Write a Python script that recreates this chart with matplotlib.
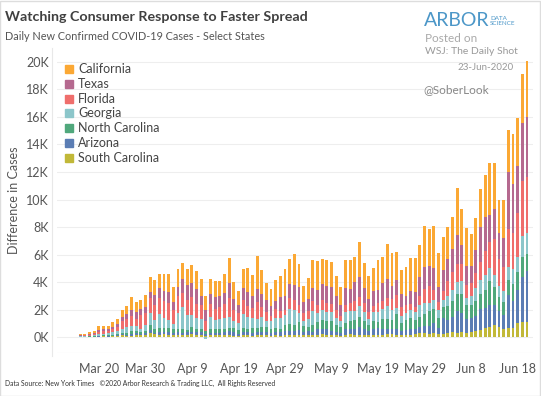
import numpy as np
import pandas as pd
import matplotlib
matplotlib.use('Agg')
import matplotlib.pyplot as plt
import matplotlib.dates as mdates
from matplotlib.ticker import FuncFormatter, MultipleLocator
from matplotlib.patches import Rectangle
from matplotlib.lines import Line2D

plt.rcParams['font.family'] = ['Lato', 'DejaVu Sans']

# daily new cases, Mar 16 .. Jun 20 2020
dates = pd.date_range('2020-03-16', '2020-06-20', freq='D')

south_carolina = [10, 12, 15, 20, 35, 40, 35, 50, 45, 125, 50, 85, 120, 150, 150, 270, 210, 140, 220, 150,
                  170, 150, 180, 160, 190, 140, 170, 100, 150, 120, 130, 150, 170, 110, 100, 140, 120, 110, 160, 180,
                  130, 90, 130, 110, 130, 160, 150, 140, 130, 140, 120, 150, 200, 170, 130, 120, 100, 150, 200, 160,
                  180, 170, 140, 140, 150, 150, 200, 190, 160, 170, 150, 180, 220, 260, 280, 240, 300, 250, 240, 270,
                  350, 330, 340, 300, 400, 450, 520, 680, 710, 880, 760, 620, 650, 650, 1000, 1100, 1120]
arizona = [5, 8, 10, 15, 25, 40, 40, 60, 90, 75, 110, 160, 140, 100, 120, 240, 120, 200, 180, 220,
           150, 200, 150, 180, 200, 210, 170, 150, 150, 200, 140, 190, 250, 230, 150, 260, 220, 180, 190, 210,
           220, 200, 250, 280, 300, 290, 260, 340, 260, 280, 250, 420, 420, 390, 300, 230, 200, 400, 350, 400,
           520, 380, 300, 410, 480, 430, 370, 420, 420, 280, 360, 410, 370, 450, 550, 560, 740, 400, 1130, 960,
           1100, 1590, 1430, 1000, 1000, 1100, 1500, 1410, 1650, 1450, 1100, 950, 2400, 2000, 2450, 3250, 3700]
north_carolina = [10, 15, 25, 30, 50, 60, 50, 55, 100, 100, 130, 160, 150, 140, 160, 360, 240, 320, 250, 280,
                  230, 250, 240, 200, 320, 270, 270, 180, 270, 250, 300, 260, 250, 300, 230, 270, 280, 360, 340, 330,
                  380, 320, 290, 220, 450, 470, 490, 590, 420, 330, 500, 540, 600, 590, 710, 500, 440, 470, 600, 700,
                  780, 600, 450, 640, 500, 700, 750, 650, 1100, 600, 700, 800, 650, 760, 860, 1100, 1000, 760, 780, 1010,
                  1150, 1200, 1370, 1000, 950, 1100, 1100, 1350, 1750, 1300, 1080, 1000, 1100, 1200, 1300, 1500, 1200]
georgia = [30, 40, 50, 90, 120, 110, 150, 180, 200, 250, 470, 400, 380, 220, 470, 850, 700, 1050, 700, 600,
           370, 1130, 1600, 1050, 900, 750, 670, -150, 900, 640, 760, 800, 790, 560, 540, 990, 870, 720, 640, 740,
           430, 560, 720, 760, 740, 1100, 1080, 690, 380, 540, 1010, 620, 760, 680, 650, 500, 400, 800, 750, 620,
           800, 640, 450, 640, 700, 760, 910, 700, 450, 470, 520, 600, 560, 850, 800, 600, 650, 560, 560, 730,
           820, 900, 920, 550, 600, 880, 1000, 1100, 900, 900, 750, 750, 950, 1100, 1100, 1500, 1550]
florida = [40, 50, 80, 100, 150, 190, 180, 250, 320, 600, 520, 730, 540, 1000, 880, 1090, 1030, 1110, 1250, 1200,
           1020, 1240, 1000, 1120, 1290, 1060, 1020, 770, 910, 800, 830, 980, 1410, 740, 700, 1000, 790, 730, 1230, 730,
           650, 370, 630, 540, 370, 850, 730, 550, 590, 580, 720, 570, 720, 660, 600, 610, 360, 540, 610, 750,
           660, 720, 510, 420, 630, 580, 640, 780, 930, 660, 570, 430, 360, 670, 1000, 1230, 750, 600, 640, 1100,
           1300, 1300, 1270, 900, 960, 1100, 1370, 1700, 1900, 2580, 2000, 1750, 2780, 2600, 3200, 4000, 4050]
texas = [25, 30, 55, 60, 140, 130, 110, 160, 190, 310, 370, 460, 480, 450, 380, 440, 730, 740, 760, 840,
         610, 700, 1080, 1050, 1060, 1030, 710, 780, 720, 880, 790, 800, 1050, 840, 630, 870, 960, 900, 930, 960,
         850, 690, 610, 1020, 960, 1010, 1100, 1300, 780, 910, 1000, 1100, 1140, 1220, 1220, 1010, 860, 1200, 1000, 1400,
         1460, 1050, 900, 1090, 970, 1280, 1380, 1000, 1100, 950, 710, 930, 1100, 1370, 1620, 1400, 1600, 1100, 1500, 1600,
         1650, 2080, 1370, 1400, 1230, 1700, 2500, 2510, 1930, 2200, 1860, 2100, 4100, 3580, 3350, 4200, 4350]
california = [70, 85, 125, 145, 260, 230, 235, 315, 345, 480, 580, 935, 740, 630, 920, 1090, 1120, 1000, 1200, 1270,
              1110, 1280, 1110, 1160, 1280, 1360, 1180, 980, 1100, 1160, 1150, 1400, 1800, 1200, 1000, 1400, 1810, 1510, 2400, 1700,
              1240, 1250, 1540, 1540, 1970, 1780, 2230, 1700, 1150, 1490, 2000, 2140, 1810, 1890, 1810, 1490, 1260, 2040, 2090, 1760,
              2530, 1850, 1700, 1650, 2150, 1890, 2500, 2360, 2030, 1720, 2080, 2430, 2510, 2330, 2960, 2700, 3060, 2460, 2450, 2350,
              2330, 3410, 2610, 2800, 2350, 2300, 2810, 3050, 3850, 3320, 2440, 2820, 3070, 3630, 3500, 3580, 4080]

legend_names = ['California', 'Texas', 'Florida', 'Georgia', 'North Carolina', 'Arizona', 'South Carolina']
colors = ['#FBA834', '#B5698F', '#EF6E6C', '#8CC6CA', '#50A87C', '#5B7DB4', '#C1B838']

series = [california, texas, florida, georgia, north_carolina, arizona, south_carolina]

W, H = 541, 396
fig = plt.figure(figsize=(W / 100, H / 100), dpi=100)
fig.patch.set_facecolor('white')

def fx(x):
    return x / W

def fy(y):
    return 1 - y / H

ax_l, ax_r, ax_t, ax_b = 57, 533, 50, 353
ax = fig.add_axes([fx(ax_l), fy(ax_b), (ax_r - ax_l) / W, (ax_b - ax_t) / H])

# stack from the bottom (South Carolina) to the top (California), negatives go below zero
pos_bottom = np.zeros(len(dates))
neg_bottom = np.zeros(len(dates))
for vals, col in zip(series[::-1], colors[::-1]):
    v = np.array(vals, dtype=float)
    b = np.where(v >= 0, pos_bottom, neg_bottom)
    ax.bar(dates, v, bottom=b, width=0.62, color=col, linewidth=0, zorder=3)
    pos_bottom += np.clip(v, 0, None)
    neg_bottom += np.clip(v, None, 0)

start = pd.Timestamp('2020-03-20')
ax.set_xlim(start - pd.Timedelta(days=9.0), start + pd.Timedelta(days=93.3))
ax.set_ylim(-1160, 20870)

ax.yaxis.set_major_locator(MultipleLocator(2000))
ax.yaxis.set_major_formatter(FuncFormatter(lambda v, p: '%dK' % round(v / 1000)))
ax.set_xticks(pd.date_range('2020-03-20', '2020-06-18', freq='10D'))
ax.xaxis.set_major_formatter(mdates.DateFormatter('%b %-d'))
ax.tick_params(axis='both', length=0, colors='#555555', labelsize=9)
ax.tick_params(axis='y', pad=6)
ax.tick_params(axis='x', pad=7)
ax.grid(axis='y', color='#EEEEEE', linewidth=0.8, zorder=0)
for s in ax.spines.values():
    s.set_visible(False)
ax.axhline(-1160, color='#E6E6E6', linewidth=0.8)

# pane divider
fig.add_artist(Line2D([fx(52), fx(52)], [fy(48), fy(356)], color='#E8E8E8', linewidth=0.8))

# legend drawn by hand
for i, (name, col) in enumerate(zip(legend_names, colors)):
    yc = 69 + i * 14.8
    fig.add_artist(Rectangle((fx(65), fy(yc + 4)), 8 / W, 8 / H, color=col, transform=fig.transFigure))
    fig.text(fx(78), fy(yc), name, fontsize=9, color='#444444', va='center', ha='left')

fig.text(fx(14), fy(200), 'Difference in Cases', rotation=90, fontsize=9, color='#555555',
         va='center', ha='center')

fig.text(fx(5), fy(17), 'Watching Consumer Response to Faster Spread', fontsize=10.3, color='#404040',
         weight='bold', va='center', ha='left')
fig.text(fx(5), fy(37), 'Daily New Confirmed COVID-19 Cases - Select States', fontsize=7.8, color='#555555',
         va='center', ha='left')

fig.text(fx(424), fy(21), 'ARBOR', fontsize=14, color='#4C97C8', va='center', ha='left')
fig.text(fx(490), fy(21), 'DATA\nSCIENCE', fontsize=4.5, color='#4C97C8', va='center', ha='left', linespacing=1.0)
fig.text(fx(425), fy(38), 'Posted on', fontsize=8.5, color='#AAAAAA', va='center', ha='left')
fig.text(fx(425), fy(52), 'WSJ: The Daily Shot', fontsize=7.5, color='#999999', va='center', ha='left')
fig.text(fx(457), fy(68), '23-Jun-2020', fontsize=7, color='#999999', va='center', ha='left')
fig.text(fx(423), fy(90), '@SoberLook', fontsize=8.5, color='#888888', va='center', ha='left')

fig.text(fx(5), fy(383), 'Data Source: New York Times   \u00a92020 Arbor Research & Trading LLC,  All Rights Reserved',
         fontsize=4.9, color='#333333', va='center', ha='left')

fig.add_artist(Rectangle((0, 0), 1 - 1 / W, 1 - 1 / H, fill=False, edgecolor='#DDDDDD', linewidth=1,
                         transform=fig.transFigure))

fig.savefig('out.png', dpi=100)
